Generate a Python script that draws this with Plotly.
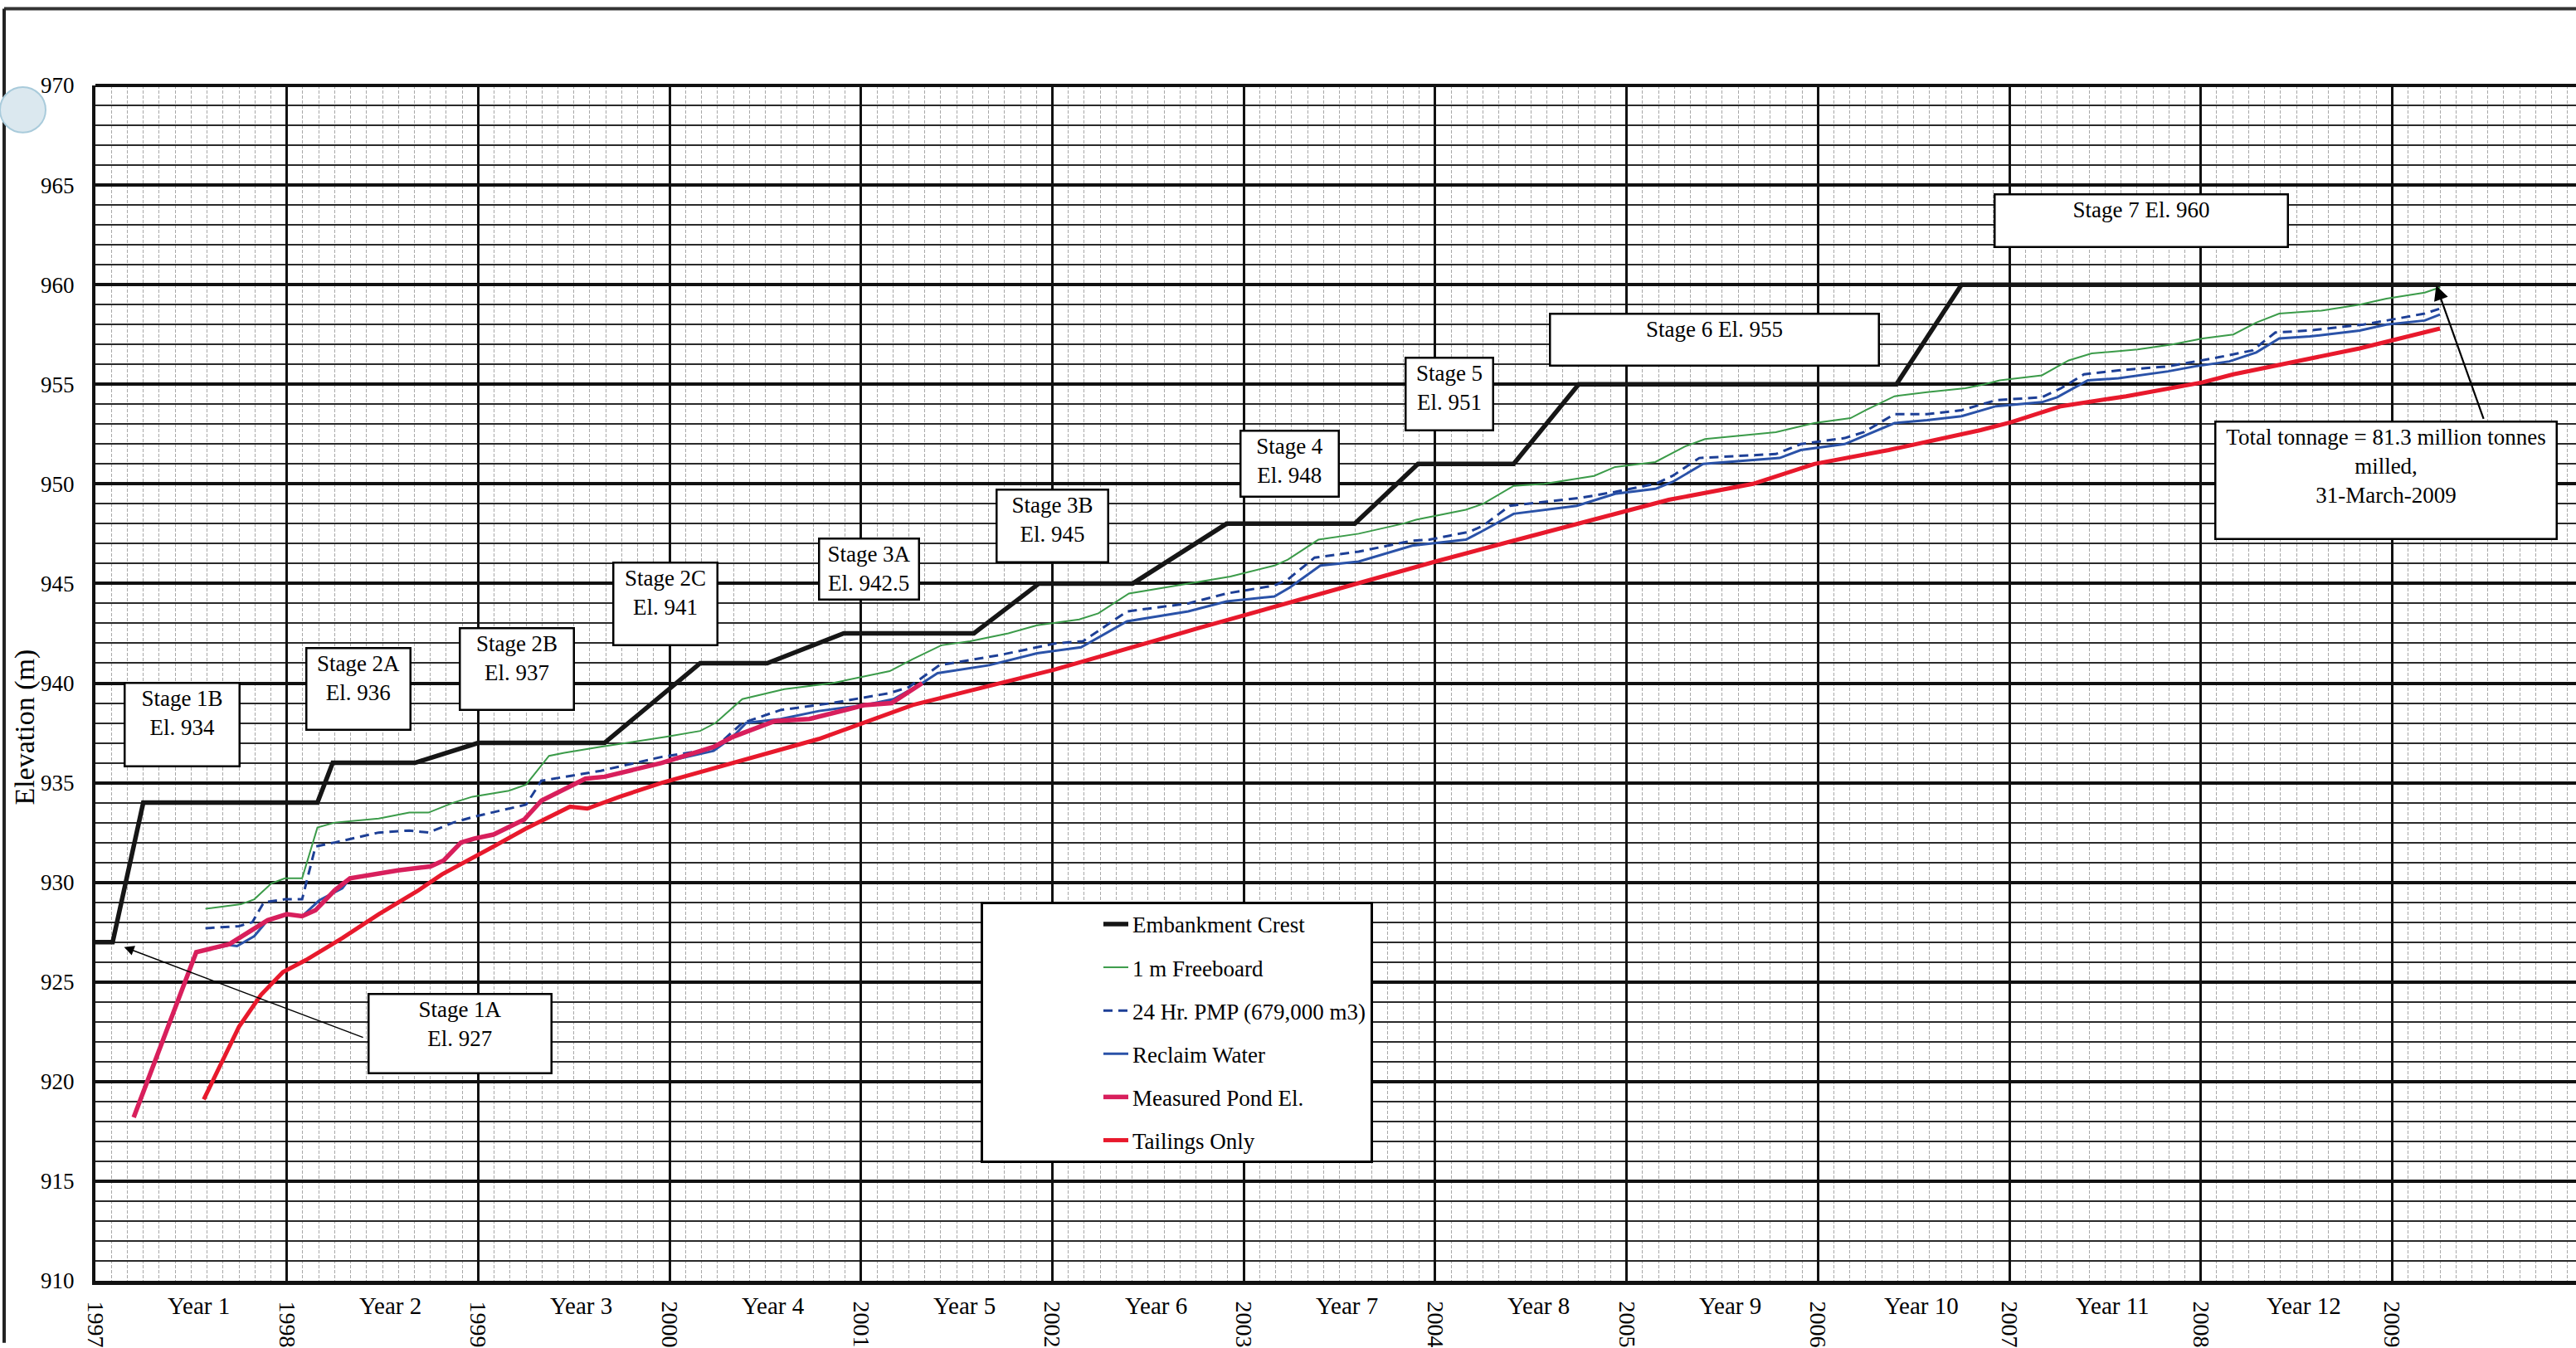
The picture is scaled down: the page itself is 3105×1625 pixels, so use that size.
import plotly.graph_objects as go

# ---------------- data ----------------
crest_x = [1997.0, 1997.09, 1997.25, 1998.16, 1998.24, 1998.67, 1999.0, 1999.66, 2000.16, 2000.51,
           2000.91, 2001.59, 2001.93, 2002.42, 2002.91, 2003.58, 2003.91, 2004.41, 2004.75, 2006.41,
           2006.75, 2009.25]
crest_y = [927, 927, 934, 934, 936, 936, 937, 937, 941, 941,
           942.5, 942.5, 945, 945, 948, 948, 951, 951, 955, 955,
           960, 960]

freeboard_x = [1997.575, 1997.76, 1997.83, 1997.92, 1997.99, 1998.08, 1998.16, 1998.25, 1998.48, 1998.64,
               1998.74, 1998.87, 1998.97, 1999.16, 1999.25, 1999.37, 1999.45, 1999.64, 1999.98, 2000.16,
               2000.24, 2000.38, 2000.60, 2000.85, 2001.15, 2001.27, 2001.42, 2001.57, 2001.77, 2001.92,
               2002.14, 2002.24, 2002.40, 2002.71, 2002.93, 2003.16, 2003.23, 2003.39, 2003.60, 2003.83,
               2003.90, 2004.16, 2004.25, 2004.41, 2004.57, 2004.83, 2004.94, 2005.15, 2005.31, 2005.41,
               2005.78, 2005.98, 2006.17, 2006.25, 2006.40, 2006.57, 2006.77, 2006.87, 2006.95, 2007.17,
               2007.31, 2007.43, 2007.67, 2007.85, 2008.01, 2008.17, 2008.29, 2008.41, 2008.63, 2008.83,
               2008.97, 2009.17, 2009.25]
freeboard_y = [928.67, 928.9, 929.15, 929.95, 930.2, 930.2, 932.75, 933.0, 933.2, 933.5,
               933.5, 934.0, 934.3, 934.6, 934.9, 936.35, 936.5, 936.8, 937.3, 937.6,
               938.0, 939.2, 939.7, 940.0, 940.6, 941.2, 941.9, 942.1, 942.5, 942.9,
               943.2, 943.5, 944.5, 945.0, 945.35, 945.9, 946.2, 947.2, 947.5, 948.0,
               948.2, 948.7, 949.0, 949.9, 950.0, 950.4, 950.85, 951.1, 951.9, 952.25,
               952.6, 953.05, 953.3, 953.7, 954.4, 954.6, 954.8, 955.0, 955.2, 955.45,
               956.2, 956.55, 956.75, 957.0, 957.3, 957.5, 958.1, 958.55, 958.7, 959.0,
               959.3, 959.6, 959.86]

pmp_x = [1997.575, 1997.75, 1997.82, 1997.88, 1997.99, 1998.08, 1998.15, 1998.25, 1998.48, 1998.64,
         1998.74, 1998.87, 1998.98, 1999.25, 1999.33, 1999.45, 1999.64, 1999.96, 2000.23, 2000.38,
         2000.58, 2000.85, 2001.15, 2001.25, 2001.41, 2001.72, 2002.02, 2002.16, 2002.39, 2002.71,
         2002.91, 2003.16, 2003.23, 2003.37, 2003.60, 2003.88, 2003.97, 2004.18, 2004.25, 2004.39,
         2004.76, 2004.94, 2005.15, 2005.24, 2005.38, 2005.78, 2005.91, 2006.14, 2006.24, 2006.40,
         2006.57, 2006.75, 2006.93, 2007.17, 2007.27, 2007.39, 2007.57, 2007.83, 2008.09, 2008.27,
         2008.39, 2008.57, 2008.85, 2008.97, 2009.17, 2009.25]
pmp_y = [927.7, 927.8, 928.0, 929.0, 929.15, 929.15, 931.8, 932.0, 932.5, 932.6,
         932.5, 933.0, 933.3, 933.9, 935.1, 935.3, 935.6, 936.3, 936.7, 938.0,
         938.65, 939.0, 939.5, 939.8, 940.9, 941.4, 942.0, 942.1, 943.6, 944.0,
         944.5, 944.9, 945.2, 946.3, 946.6, 947.15, 947.2, 947.6, 947.9, 948.9,
         949.3, 949.6, 950.0, 950.4, 951.3, 951.5, 952.0, 952.3, 952.6, 953.5,
         953.5, 953.7, 954.2, 954.35, 954.8, 955.5, 955.7, 955.9, 956.35, 956.7,
         957.6, 957.7, 958.0, 958.2, 958.55, 958.8]

reclaim_x = [1997.53, 1997.70, 1997.74, 1997.83, 1997.90, 1998.00, 1998.08, 1998.17, 1998.29, 1998.33,
             1998.42, 1998.58, 1998.75, 1998.82, 1998.91, 1998.98, 1999.08, 1999.16, 1999.24, 1999.33,
             1999.45, 1999.56, 1999.66, 2000.00, 2000.23, 2000.33, 2000.40, 2000.58, 2000.78, 2001.02,
             2001.17, 2001.32, 2001.40, 2001.67, 2001.92, 2002.15, 2002.39, 2002.71, 2002.91, 2003.16,
             2003.24, 2003.40, 2003.60, 2003.88, 2004.16, 2004.24, 2004.41, 2004.74, 2004.94, 2005.15,
             2005.24, 2005.40, 2005.80, 2005.91, 2006.14, 2006.24, 2006.40, 2006.57, 2006.75, 2006.93,
             2007.17, 2007.25, 2007.41, 2007.57, 2007.83, 2007.97, 2008.15, 2008.29, 2008.41, 2008.57,
             2008.83, 2008.97, 2009.17, 2009.25]
reclaim_y = [926.5, 926.85, 926.8, 927.3, 928.1, 928.4, 928.3, 929.1, 929.7, 930.2,
             930.35, 930.6, 930.8, 931.1, 932.0, 932.2, 932.4, 932.75, 933.15, 934.1,
             934.7, 935.2, 935.3, 936.1, 936.6, 937.3, 938.0, 938.2, 938.6, 938.9,
             939.2, 940.0, 940.5, 940.9, 941.5, 941.8, 943.1, 943.6, 944.1, 944.35,
             944.8, 945.9, 946.1, 946.9, 947.2, 947.6, 948.5, 948.9, 949.5, 949.75,
             950.1, 951.0, 951.3, 951.7, 952.0, 952.4, 953.05, 953.2, 953.4, 953.9,
             954.1, 954.35, 955.2, 955.3, 955.65, 955.9, 956.15, 956.6, 957.3, 957.4,
             957.7, 958.0, 958.2, 958.5]

pond_x = [1997.20, 1997.527, 1997.70, 1997.75, 1997.90, 1998.00, 1998.08, 1998.15, 1998.25, 1998.33,
          1998.42, 1998.58, 1998.75, 1998.82, 1998.91, 1998.98, 1999.08, 1999.16, 1999.24, 1999.33,
          1999.45, 1999.56, 1999.66, 1999.96, 2000.23, 2000.33, 2000.55, 2000.73, 2001.02, 2001.16,
          2001.32]
pond_y = [918.2, 926.5, 926.9, 927.2, 928.1, 928.4, 928.3, 928.6, 929.6, 930.2,
          930.35, 930.6, 930.8, 931.1, 932.0, 932.2, 932.4, 932.75, 933.15, 934.1,
          934.7, 935.2, 935.3, 936.0, 936.8, 937.3, 938.1, 938.2, 938.9, 939.0,
          940.0]

tailings_x = [1997.566, 1997.75, 1997.865, 1997.98, 1998.10, 1998.29, 1998.48, 1998.68, 1998.81, 1998.97,
              1999.08, 1999.25, 1999.48, 1999.57, 1999.74, 1999.96, 2000.78, 2001.27, 2002.02, 2002.76,
              2003.37, 2004.00, 2004.41, 2005.22, 2005.66, 2005.98, 2006.37, 2006.61, 2006.85, 2007.01,
              2007.27, 2007.61, 2007.83, 2008.01, 2008.17, 2008.37, 2008.83, 2009.25]
tailings_y = [919.1, 922.75, 924.35, 925.5, 926.1, 927.2, 928.4, 929.55, 930.4, 931.2,
              931.8, 932.7, 933.8, 933.7, 934.3, 935.0, 937.2, 938.9, 940.7, 942.75,
              944.4, 946.1, 947.15, 949.2, 950.0, 951.0, 951.7, 952.2, 952.7, 953.1,
              953.9, 954.4, 954.8, 955.1, 955.5, 955.9, 956.8, 957.8]

series_names = ["Embankment Crest", "1 m Freeboard", "24 Hr. PMP (679,000 m3)",
                "Reclaim Water", "Measured Pond El.", "Tailings Only"]

year_ticks = [1997, 1998, 1999, 2000, 2001, 2002, 2003, 2004, 2005, 2006, 2007, 2008, 2009]
year_tick_text = ["1997", "1998", "1999", "2000", "2001", "2002", "2003", "2004", "2005",
                  "2006", "2007", "2008", "2009"]
period_labels = ["Year 1", "Year 2", "Year 3", "Year 4", "Year 5", "Year 6", "Year 7",
                 "Year 8", "Year 9", "Year 10", "Year 11", "Year 12"]
elev_ticks = [910, 915, 920, 925, 930, 935, 940, 945, 950, 955, 960, 965, 970]

stage_texts = ["Stage 1B<br>El. 934", "Stage 2A<br>El. 936", "Stage 2B<br>El. 937",
               "Stage 2C<br>El. 941", "Stage 3A<br>El. 942.5", "Stage 3B<br>El. 945",
               "Stage 4<br>El. 948", "Stage 5<br>El. 951", "Stage 6 El. 955",
               "Stage 7 El. 960", "Stage 1A<br>El. 927",
               "Total tonnage = 81.3 million tonnes<br>milled,<br>31-March-2009"]

# ---------------- styling / layout ----------------
FONT = "Liberation Serif, Times New Roman, serif"
FS = 27

line_styles = [
    dict(color="#161616", width=5.5),
    dict(color="#3b9b49", width=2),
    dict(color="#1d3f96", width=3, dash="11px,7px"),
    dict(color="#2a52a8", width=3),
    dict(color="#d81f5c", width=5.5),
    dict(color="#e8192c", width=5),
]
xs = [crest_x, freeboard_x, pmp_x, reclaim_x, pond_x, tailings_x]
ys = [crest_y, freeboard_y, pmp_y, reclaim_y, pond_y, tailings_y]

fig = go.Figure()
for i, (nm, x, y, ls) in enumerate(zip(series_names, xs, ys, line_styles)):
    fig.add_trace(go.Scatter(x=x, y=y, mode="lines", name=nm, line=ls,
                             legendgroup=f"g{i}", hoverinfo="skip"))

# annotation boxes: (x centre, y centre, width px, height px)
box_pos = [
    (1997.451, 937.91, 140, 102),
    (1998.372, 939.71, 127, 100),
    (1999.204, 940.71, 139, 100),
    (1999.980, 943.98, 127, 101),
    (2001.044, 945.72, 122, 75),
    (2002.002, 947.88, 136, 89),
    (2003.238, 951.03, 120, 81),
    (2004.072, 954.51, 107, 89),
    (2005.461, 957.23, 398, 64),
    (2007.691, 963.22, 355, 65),
    (1998.903, 922.42, 222, 97),
    (2008.970, 950.20, 413, 143),
]
annotations = []
for txt, (bx, by, bw, bh) in zip(stage_texts, box_pos):
    annotations.append(dict(
        x=bx, y=by, xref="x", yref="y", text=txt, showarrow=False,
        xanchor="center", yanchor="middle", width=bw - 8, height=bh - 8,
        valign="top", align="center", bgcolor="white", bordercolor="black",
        borderwidth=2.5, borderpad=2, font=dict(family=FONT, size=FS, color="black")))

# arrows
for (tx, ty, hx, hy, w) in [(1998.405, 922.19, 1997.15, 926.75, 1.5),
                            (2009.48, 953.2, 2009.23, 959.96, 2.2)]:
    annotations.append(dict(x=hx, y=hy, ax=tx, ay=ty, xref="x", yref="y", axref="x", ayref="y",
                            text="", showarrow=True, arrowhead=2, arrowsize=1.6,
                            arrowwidth=w, arrowcolor="black", standoff=0))

# "Year N" labels below axis
for yr, lab in zip(year_ticks[:-1], period_labels):
    annotations.append(dict(x=yr + 0.54, y=-0.021, xref="x", yref="paper", text=lab,
                            showarrow=False, xanchor="center", yanchor="middle",
                            font=dict(family=FONT, size=29, color="black")))

# y-axis title
annotations.append(dict(x=-0.0285, y=0.463, xref="paper", yref="paper", text="Elevation (m)",
                        textangle=-90, showarrow=False, xanchor="center", yanchor="middle",
                        font=dict(family=FONT, size=34, color="black")))

L, R, T, B = 115, 0, 103, 75
W, H = 3105, 1625
pw, ph = W - L - R, H - T - B


def px_x(p):
    return (p - L) / pw


def px_y(p):
    return (H - B - p) / ph


shapes = [
    # top border of plot
    dict(type="line", xref="paper", yref="paper", x0=0, x1=1, y0=1, y1=1,
         line=dict(color="#111", width=4)),
    # scanned page frame
    dict(type="line", xref="paper", yref="paper", x0=px_x(5), x1=1, y0=px_y(10), y1=px_y(10),
         line=dict(color="#333", width=4)),
    dict(type="line", xref="paper", yref="paper", x0=px_x(5), x1=px_x(5), y0=px_y(10), y1=px_y(1625),
         line=dict(color="#222", width=4)),
    # punch hole
    dict(type="circle", xref="paper", yref="paper", x0=px_x(0), x1=px_x(55), y0=px_y(160), y1=px_y(105),
         fillcolor="#dbe8ef", line=dict(color="#a9cbdb", width=2)),
]

fig.update_layout(
    width=W, height=H, autosize=False,
    margin=dict(l=L, r=R, t=T, b=B, pad=0),
    paper_bgcolor="white", plot_bgcolor="white",
    font=dict(family=FONT, size=FS, color="black"),
    showlegend=True,
    legend=dict(x=px_x(1182), y=px_y(1091), xanchor="left", yanchor="top",
                bgcolor="white", bordercolor="black", borderwidth=3,
                font=dict(family=FONT, size=FS, color="black"),
                tracegroupgap=14, indentation=140, itemwidth=30,
                traceorder="grouped"),
    annotations=annotations,
    shapes=shapes,
    xaxis=dict(range=[1997, 1997 + pw / 230.7], tickmode="array", tickvals=year_ticks,
               ticktext=year_tick_text, tickangle=90, ticks="", ticklabelstandoff=14,
               tickfont=dict(family=FONT, size=28, color="black"),
               showgrid=True, gridcolor="#111", gridwidth=3,
               minor=dict(dtick=1 / 12, tick0=1997, showgrid=True, gridcolor="#a8a8a8",
                          gridwidth=1, griddash="4px,2px"),
               showline=True, linecolor="#111", linewidth=5, zeroline=False, fixedrange=True),
    yaxis=dict(range=[910, 970], tickmode="array", tickvals=elev_ticks, ticks="",
               ticklabelstandoff=16, tickfont=dict(family=FONT, size=FS, color="black"),
               showgrid=True, gridcolor="#111", gridwidth=3.5,
               minor=dict(dtick=1, tick0=910, showgrid=True, gridcolor="#2a2a2a", gridwidth=2),
               showline=True, linecolor="#111", linewidth=4, zeroline=False, fixedrange=True),
)

fig.write_html("out.html")
